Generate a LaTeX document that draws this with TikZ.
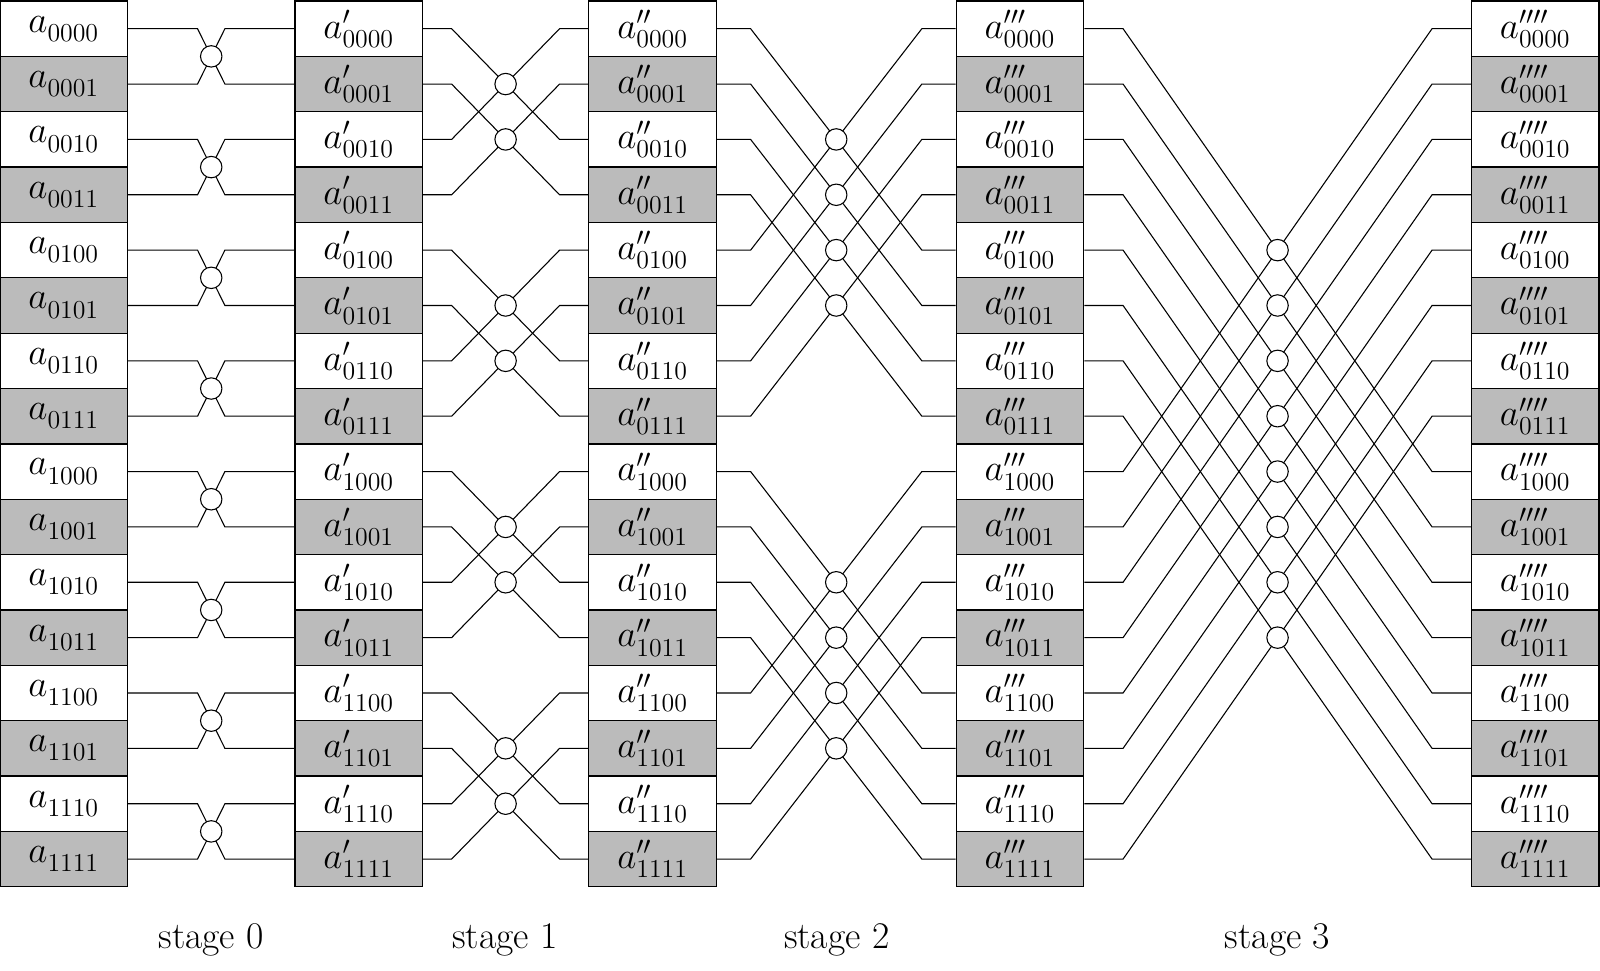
\documentclass[tikz,border=0pt]{standalone}
\usetikzlibrary{calc}
\definecolor{shade}{HTML}{BBBBBB}
\begin{document}
\begin{tikzpicture}[x=0.02cm,y=-0.02cm,
  cell/.style={draw,line width=0.7pt,minimum width=2.5cm,minimum height=1.085cm,inner sep=0pt,font=\fontsize{21}{24}\selectfont},
  bf/.style={circle,draw,fill=white,line width=0.6pt,minimum size=0.42cm,inner sep=0pt},
  wire/.style={line width=0.6pt},
  lab/.style={font=\fontsize{21}{24}\selectfont}]
\foreach \c/\x/\p in {0/0/{},1/289/{\prime},2/577/{\prime\prime},3/937/{\prime\prime\prime},4/1442/{\prime\prime\prime\prime}}{
  \foreach \b [count=\n from 0] in {0000,0001,0010,0011,0100,0101,0110,0111,1000,1001,1010,1011,1100,1101,1110,1111}{
    \pgfmathtruncatemacro\od{mod(\n,2)}
    \ifnum\od=1 \def\fc{shade}\else\def\fc{white}\fi
    \node[cell,fill=\fc] (c\c-\n) at (\x+62.5,{1+54.25*\n+27.125}) {$a^{\p}_{\b}$};
  }
}
\foreach \s/\t/\k/\d in {0/1/1/68,1/2/2/28,2/3/4/33,3/4/8/38}{
  \foreach \i in {0,...,15}{
    \pgfmathtruncatemacro\bit{mod(floor(\i/\k),2)}
    \pgfmathtruncatemacro\j{\bit==0 ? \i+\k : \i-\k}
    \draw[wire] (c\s-\i.east) -- ++(\d,0) -- ($(c\t-\j.west)+(-\d,0)$) -- (c\t-\j.west);
  }
  \foreach \i in {0,...,15}{
    \pgfmathtruncatemacro\bit{mod(floor(\i/\k),2)}
    \pgfmathtruncatemacro\j{\i+\k}
    \ifnum\bit=0
      \node[bf] (x\s-\i) at ($(c\s-\i.east)!0.5!(c\t-\j.west)$) {};
    \fi
  }
}
\node[lab] (s0) at (207,921) {stage 0};
\node[lab] (s1) at (495,921) {stage 1};
\node[lab] (s2) at (820,921) {stage 2};
\node[lab] (s3) at (1252,921) {stage 3};
\pgfresetboundingbox
\path[use as bounding box] (0,0) rectangle (1568,951);
\end{tikzpicture}
\end{document}
